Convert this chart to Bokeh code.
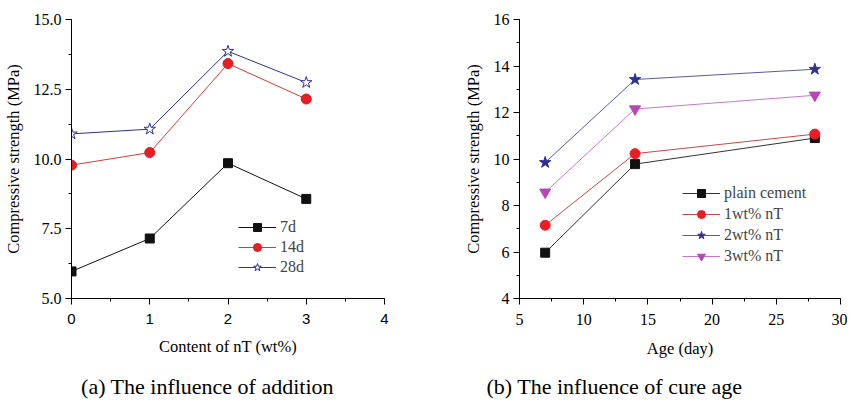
from bokeh.plotting import figure
from bokeh.layouts import row, column
from bokeh.models import Range1d, SingleIntervalTicker, PrintfTickFormatter, Label, Legend, LegendItem
from bokeh.embed import file_html
from bokeh.resources import INLINE

# ---- data ----
content = [0, 1, 2, 3]            # nT content (wt%)
ages = [7, 14, 28]                # cure age (day)
s7 = [5.97, 7.15, 9.85, 8.57]     # 7d strength (MPa)
s14 = [9.78, 10.23, 13.42, 12.15] # 14d strength
s28 = [10.90, 11.07, 13.86, 12.74]# 28d strength
age_labels = ["7d", "14d", "28d"]
mix_labels = ["plain cement", "1wt% nT", "2wt% nT", "3wt% nT"]
captions = ["(a) The influence of addition", "(b) The influence of cure age"]

FONT = "Liberation Serif"
SANS = "Liberation Sans"
BLACK = "#111111"
RED = "#ec1c24"
BLUE = "#2e3192"
MAG = "#b946b9"


def style(p, xlab, ylab):
    p.xgrid.visible = False
    p.ygrid.visible = False
    p.outline_line_color = None
    for ax in (p.xaxis[0], p.yaxis[0]):
        ax.axis_line_color = "black"
        ax.axis_line_width = 1
        ax.major_tick_line_color = "black"
        ax.minor_tick_line_color = "black"
        ax.major_tick_out = 6
        ax.major_tick_in = 0
        ax.minor_tick_out = 3
        ax.minor_tick_in = 0
        ax.major_label_text_font = FONT
        ax.major_label_text_font_size = "16px"
        ax.major_label_text_color = "black"
        ax.axis_label_text_font = FONT
        ax.axis_label_text_font_size = "16.5px"
        ax.axis_label_text_font_style = "normal"
        ax.axis_label_text_color = "black"
    p.xaxis.axis_label = xlab
    p.yaxis.axis_label = ylab
    p.xaxis.major_label_standoff = 9
    p.yaxis.major_label_standoff = 4
    p.yaxis.axis_label_standoff = 8


def caption_fig(width, text, cx):
    c = figure(width=width, height=31, output_backend="svg", toolbar_location=None,
               x_range=Range1d(0, width), y_range=Range1d(0, 31),
               min_border=0)
    c.axis.visible = False
    c.xgrid.visible = False
    c.ygrid.visible = False
    c.outline_line_color = None
    c.add_layout(Label(x=cx, y=15, text=text, text_align="center", text_baseline="middle",
                       text_font=FONT, text_font_size="22px", text_color="black"))
    return c


# ---- left panel ----
p1 = figure(width=420, height=370, output_backend="svg", toolbar_location=None,
            x_range=Range1d(0, 4), y_range=Range1d(5, 15),
            min_border_left=67, min_border_right=36, min_border_top=19, min_border_bottom=71)
style(p1, "Content of nT (wt%)", "Compressive strength (MPa)")
p1.xaxis.axis_label_standoff = 10
p1.xaxis.ticker = SingleIntervalTicker(interval=1, num_minor_ticks=2)
p1.yaxis.ticker = SingleIntervalTicker(interval=2.5, num_minor_ticks=2)
p1.yaxis.formatter = PrintfTickFormatter(format="%.1f")
p1.xaxis.major_label_text_font = SANS
p1.xaxis.major_label_text_font_size = "15px"

items1 = []
for ys, lab, lc, mk, fc, sz in [
    (s7, age_labels[0], BLACK, "square", BLACK, 9),
    (s14, age_labels[1], "#d43a3a", "circle", RED, 10),
    (s28, age_labels[2], BLUE, "star", "white", 12),
]:
    l = p1.line(content, ys, line_color=lc, line_width=1)
    m = p1.scatter(content, ys, marker=mk, size=sz, fill_color=fc,
                   line_color=(lc if mk != "circle" else "#c81e1e"), line_width=1)
    items1.append(LegendItem(label=lab, renderers=[l, m]))

leg1 = Legend(items=items1, location=(167, 21), glyph_width=38, glyph_height=20,
              label_height=20, label_standoff=4, spacing=0, padding=0, margin=0,
              border_line_color=None, background_fill_alpha=0,
              label_text_font=FONT, label_text_font_size="16px")
p1.add_layout(leg1, "center")

# ---- right panel ----
plain = [s7[0], s14[0], s28[0]]
w1 = [s7[1], s14[1], s28[1]]
w2 = [s7[2], s14[2], s28[2]]
w3 = [s7[3], s14[3], s28[3]]

p2 = figure(width=427, height=370, output_backend="svg", toolbar_location=None,
            x_range=Range1d(5, 30), y_range=Range1d(4, 16),
            min_border_left=99, min_border_right=7, min_border_top=15, min_border_bottom=72)
style(p2, "Age (day)", "Compressive strength (MPa)")
p2.xaxis.axis_label_standoff = 11
p2.xaxis.ticker = SingleIntervalTicker(interval=5, num_minor_ticks=2)
p2.yaxis.ticker = SingleIntervalTicker(interval=2, num_minor_ticks=2)

items2 = []
for ys, lab, lc, mk, fc, sz in [
    (plain, mix_labels[0], "#333333", "square", BLACK, 9),
    (w1, mix_labels[1], "#c84848", "circle", RED, 10),
    (w2, mix_labels[2], "#5a5aa0", "star", BLUE, 12),
    (w3, mix_labels[3], "#c878c8", "inverted_triangle", MAG, 11),
]:
    l = p2.line(ages, ys, line_color=lc, line_width=1)
    m = p2.scatter(ages, ys, marker=mk, size=sz, fill_color=fc, line_color=fc, line_width=1)
    items2.append(LegendItem(label=lab, renderers=[l, m]))

leg2 = Legend(items=items2, location=(163, 32), glyph_width=38, glyph_height=20,
              label_height=20, label_standoff=4, spacing=1, padding=0, margin=0,
              border_line_color=None, background_fill_alpha=0,
              label_text_font=FONT, label_text_font_size="16px")
p2.add_layout(leg2, "center")

c1 = caption_fig(420, captions[0], 207)
c2 = caption_fig(427, captions[1], 194)

layout = column(row(p1, p2), row(c1, c2))
open("out.html", "w").write(file_html(layout, INLINE))
